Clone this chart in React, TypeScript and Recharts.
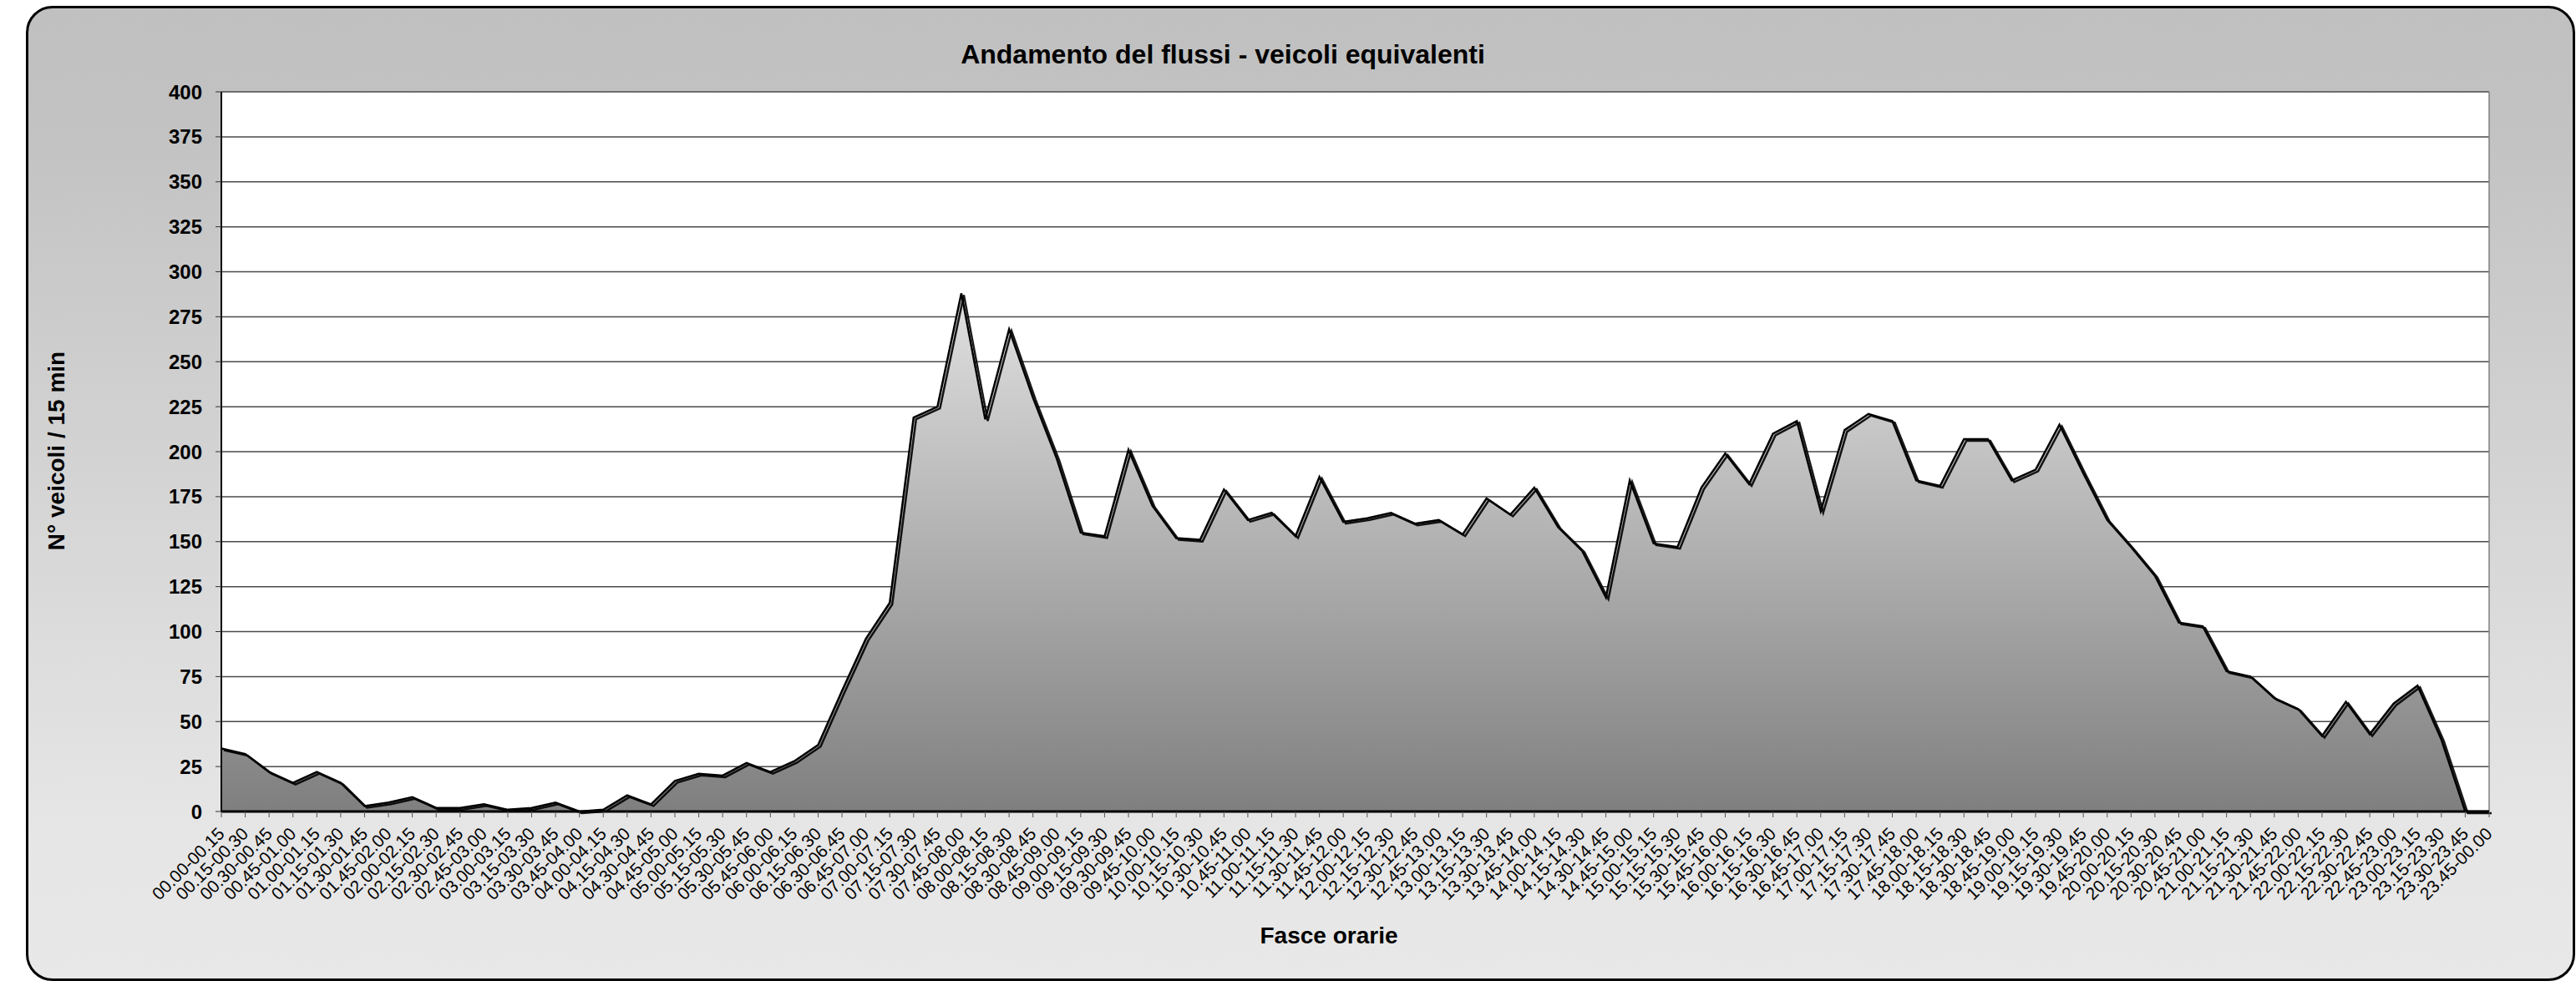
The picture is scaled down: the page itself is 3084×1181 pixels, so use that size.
import React from "react";
import {
  AreaChart,
  Area,
  XAxis,
  YAxis,
  CartesianGrid,
  ReferenceLine,
} from "recharts";

// 15-minute time slots
const hours = Array.from({ length: 24 }, (_, h) => String(h).padStart(2, "0"));
const quarters = ["00", "15", "30", "45"];
const slots: string[] = [];
hours.forEach((h, hi) => {
  quarters.forEach((q, qi) => {
    const nh = qi === 3 ? hours[(hi + 1) % 24] : h;
    const nq = quarters[(qi + 1) % 4];
    slots.push(`${h}.${q}-${nh}.${nq}`);
  });
});

// veicoli equivalenti per 15 min
const vehicles = [
  35, 32, 22, 16, 22, 16, 3, 5, 8, 2, 2, 4, 1, 2, 5, 0,
  1, 9, 4, 17, 21, 20, 27, 22, 28, 37, 67, 96, 116, 219, 225, 288,
  218, 268, 230, 196, 155, 153, 201, 170, 152, 151, 179, 162, 166, 153, 186, 161,
  163, 166, 160, 162, 154, 174, 165, 180, 158, 145, 119, 184, 149, 147, 180, 199,
  182, 210, 217, 167, 212, 221, 217, 184, 181, 207, 207, 184, 190, 215, 188, 162,
  147, 131, 105, 103, 78, 75, 63, 57, 42, 61, 43, 60, 70, 40, 0, 0,
];

const yTicks = [0, 25, 50, 75, 100, 125, 150, 175, 200, 225, 250, 275, 300, 325, 350, 375, 400];

const data = slots.map((slot, i) => ({ slot, value: vehicles[i] }));

const FONT = "'Liberation Sans', Arial, sans-serif";

const SlotTick = (props: any) => {
  const { x, y, payload } = props;
  const tx = x + 5;
  const ty = y + 19;
  return (
    <text
      x={tx}
      y={ty}
      transform={`rotate(-45 ${tx} ${ty})`}
      textAnchor="end"
      fontFamily={FONT}
      fontSize={21}
      fill="#000"
    >
      {payload.value}
    </text>
  );
};

export default function App() {
  return (
    <div style={{ position: "absolute", left: 0, top: 0, width: 3084, height: 1181, background: "#fff" }}>
      <style>{`.recharts-area-curve { filter: drop-shadow(3px 2px 0 rgba(0,0,0,0.9)); }`}</style>
      <div
        style={{
          position: "absolute",
          left: 31,
          top: 7,
          width: 3052,
          height: 1168,
          boxSizing: "border-box",
          border: "3px solid #000",
          borderRadius: 32,
          background: "linear-gradient(to bottom, #c0c0c0 0%, #c2c2c2 12%, #e6e6e6 85%, #e8e8e8 100%)",
        }}
      />
      <div
        style={{
          position: "absolute",
          left: 1464,
          top: 47,
          transform: "translateX(-50%)",
          fontFamily: FONT,
          fontWeight: "bold",
          fontSize: 32,
          whiteSpace: "nowrap",
          lineHeight: "36px",
        }}
      >
        Andamento del flussi - veicoli equivalenti
      </div>
      <div
        style={{
          position: "absolute",
          left: 68,
          top: 540,
          transform: "translate(-50%, -50%) rotate(-90deg)",
          fontFamily: FONT,
          fontWeight: "bold",
          fontSize: 28,
          whiteSpace: "nowrap",
          lineHeight: "30px",
        }}
      >
        N° veicoli / 15 min
      </div>
      <div
        style={{
          position: "absolute",
          left: 1591,
          top: 1105,
          transform: "translateX(-50%)",
          fontFamily: FONT,
          fontWeight: "bold",
          fontSize: 28,
          whiteSpace: "nowrap",
          lineHeight: "32px",
        }}
      >
        Fasce orarie
      </div>
      <div style={{ position: "absolute", left: 0, top: 0 }}>
        <AreaChart
          width={3084}
          height={1181}
          data={data}
          margin={{ top: 110, right: 104, bottom: 89, left: 205 }}
        >
          <defs>
            <linearGradient id="flowFill" x1="0" y1="0" x2="0" y2="1">
              <stop offset="0%" stopColor="#e0e0e0" />
              <stop offset="100%" stopColor="#7f7f7f" />
            </linearGradient>
          </defs>
          <CartesianGrid vertical={false} stroke="#4a4a4a" strokeWidth={1.5} fill="#ffffff" />
          <ReferenceLine x={slots[slots.length - 1]} stroke="#808080" strokeWidth={1.5} />
          <XAxis
            dataKey="slot"
            scale="point"
            padding={{ left: 0, right: 0 }}
            interval={0}
            height={120}
            tick={<SlotTick />}
            tickSize={7}
            tickLine={{ stroke: "#555" }}
            axisLine={{ stroke: "#000", strokeWidth: 3 }}
          />
          <YAxis
            domain={[0, 400]}
            ticks={yTicks}
            interval={0}
            width={60}
            tickSize={7}
            tickMargin={16}
            tickLine={{ stroke: "#333" }}
            axisLine={{ stroke: "#000", strokeWidth: 2 }}
            tick={{ fontFamily: FONT, fontWeight: "bold", fontSize: 24, fill: "#000" }}
          />
          <Area
            type="linear"
            dataKey="value"
            stroke="#000"
            strokeWidth={2.5}
            fill="url(#flowFill)"
            fillOpacity={1}
            dot={false}
            activeDot={false}
            isAnimationActive={false}
          />
        </AreaChart>
      </div>
    </div>
  );
}
